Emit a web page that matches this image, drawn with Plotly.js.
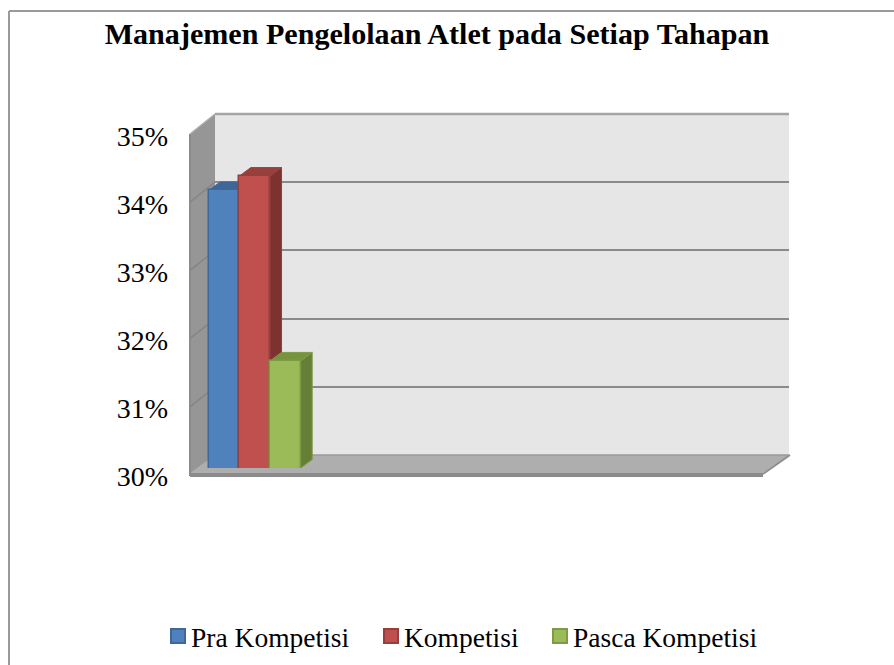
<!DOCTYPE html>
<html><head><meta charset="utf-8">
<script src="https://cdn.plot.ly/plotly-3.0.1.min.js"></script>
<style>html,body{margin:0;padding:0;background:#fff}#c{width:894px;height:665px}</style>
</head><body><div id="c"></div>
<script>
const chartTitle = "Manajemen Pengelolaan Atlet pada Setiap Tahapan";
const stage = ["Tahapan"];
const seriesNames = ["Pra Kompetisi", "Kompetisi", "Pasca Kompetisi"];
const praKompetisi = [34.07];
const kompetisi = [34.28];
const pascaKompetisi = [31.57];
const axisTicks = [30, 31, 32, 33, 34, 35];
const tickLabels = ["30%", "31%", "32%", "33%", "34%", "35%"];

const seriesValues = [praKompetisi, kompetisi, pascaKompetisi];
const front = ["#4f81bd", "#c0504d", "#9bbb59"];
const edge = ["#3d6898", "#93403e", "#7d9a47"];
const topFace = ["#3e6697", "#99403d", "#77933c"];
const sideFace = ["#38608f", "#7d3230", "#667f37"];
const W = 894, H = 665, F = "'Liberation Serif', 'Times New Roman', serif";
const px = x => x / W, py = y => 1 - y / H;
const domX = (a, b) => [px(a), px(b)], domY = (bottom, top) => [py(bottom), py(top)];

// fake-3D geometry of the Excel box (pixels)
const boxFront = {l: 190, r: 765, b: 475, t: 134};
const boxBack = {l: 215, r: 789, b: 455, t: 114};
const unitPx = 92, yUnitPx = 68.2, depthX = 11.5 / unitPx, depthY = 8.5 / yUnitPx;
const barCentre = 254.7;

const poly = (pts, fill, line, lw) => ({type: "path", xref: "paper", yref: "paper", layer: "below",
  path: "M" + pts.map(p => px(p[0]) + "," + py(p[1])).join("L") + "Z",
  fillcolor: fill, line: {color: line || fill, width: lw === undefined ? 0 : lw}});
const seg = (x0, y0, x1, y1, c, w) => ({type: "line", xref: "paper", yref: "paper", layer: "below",
  x0: px(x0), y0: py(y0), x1: px(x1), y1: py(y1), line: {color: c, width: w}});

const shapes = [
  seg(9, 11, 894, 11, "#9a9a9a", 2),
  seg(9, 11, 9, 665, "#9a9a9a", 2),
  poly([[215,114],[789,114],[789,455],[215,455]], "#e6e6e6"),
  poly([[190,134],[215,114],[215,455],[190,475]], "#969696"),
  poly([[190,473],[215,455],[790,455],[763,473]], "#aeaeae"),
  poly([[190,473],[763,473],[763,477],[190,477]], "#8b8b8b"),
  seg(763, 474, 790, 455, "#8f8f8f", 2),
  seg(190, 134, 190, 476, "#8b8b8b", 2),
  seg(190, 134, 215, 114, "#adadad", 1.5),
  seg(215, 114, 789, 114, "#a4a4a4", 2.5),
  seg(215, 455, 789, 455, "#9a9a9a", 1.5)
];
axisTicks.slice(1, -1).forEach((t, i) => {
  const k = i + 1;
  shapes.push(seg(190, 475 - k * 68.2, 215, 455 - k * 68.2, "#858585", 1.5));
});

// depth faces of each bar, computed from the data values in bar-subplot units
seriesValues.forEach((vals, i) => {
  const v = vals[0];
  const xl = 0.5 + i / 3, xr = xl + 1 / 3;
  shapes.push({type: "path", xref: "x3", yref: "y3", layer: "below",
    path: `M${xr},30L${xr + depthX},${30 + depthY}L${xr + depthX},${v + depthY}L${xr},${v}Z`,
    fillcolor: sideFace[i], line: {color: edge[i], width: 1}});
  shapes.push({type: "path", xref: "x3", yref: "y3", layer: "below",
    path: `M${xl},${v}L${xl + depthX},${v + depthY}L${xr + depthX},${v + depthY}L${xr},${v}Z`,
    fillcolor: topFace[i], line: {color: edge[i], width: 1}});
});

const legendNames = ["legend", "legend2", "legend3"];
const legendTextX = [181, 394, 563];

const anchors = [["x", "y"], ["x2", "y2"]].map(a => ({
  type: "scatter", mode: "none", x: [0.5], y: [32], xaxis: a[0], yaxis: a[1],
  showlegend: false, hoverinfo: "skip"
}));

const traces = anchors.concat(seriesNames.map((n, i) => ({
  type: "bar", name: n, x: [1], y: seriesValues[i], xaxis: "x3", yaxis: "y3",
  text: stage, textposition: "none", hoverinfo: "name+y",
  marker: {color: front[i], line: {color: edge[i], width: 1.5}},
  legend: legendNames[i], showlegend: true
})));

const legendCfg = x => ({x: px(x), y: py(636), xanchor: "left", yanchor: "middle",
  orientation: "h", bgcolor: "rgba(0,0,0,0)", borderwidth: 0, traceorder: "normal",
  font: {family: F, size: 27.5, color: "#000"}, itemclick: false, itemdoubleclick: false});

const hiddenX = (a, b, anchor) => ({domain: domX(a, b), visible: false, anchor, fixedrange: true});

const layout = {
  width: W, height: H, margin: {l: 0, r: 0, t: 0, b: 0},
  paper_bgcolor: "#fff", plot_bgcolor: "rgba(0,0,0,0)",
  barmode: "group", bargap: 0, bargroupgap: 0,
  title: {text: "<b>" + chartTitle + "</b>", x: px(437), y: py(33.5), xanchor: "center", yanchor: "middle",
    xref: "paper", yref: "paper", font: {family: F, size: 30.1, color: "#000"}},
  // back wall: gridlines
  xaxis: Object.assign(hiddenX(boxBack.l, boxBack.r, "y"), {range: [0, 1]}),
  yaxis: {domain: domY(boxBack.b, boxBack.t), range: [30, 35], anchor: "x", tickvals: axisTicks.slice(1, -1),
    showticklabels: false, ticks: "", showgrid: true, gridcolor: "#8a8a8a", gridwidth: 2, zeroline: false, showline: false, fixedrange: true},
  // front plane: tick labels
  xaxis2: Object.assign(hiddenX(boxFront.l, boxFront.r, "y2"), {range: [0, 1]}),
  yaxis2: {domain: domY(476.5, 136), range: [30, 35], anchor: "x2", tickmode: "array", tickvals: axisTicks, ticktext: tickLabels,
    showgrid: false, zeroline: false, showline: false, ticks: "", ticklabelstandoff: 21, fixedrange: true,
    tickfont: {family: F, size: 28, color: "#000"}},
  // bars plane
  xaxis3: Object.assign(hiddenX(boxFront.l, boxFront.r, "y3"),
    {type: "linear", range: [1 - (barCentre - boxFront.l) / unitPx, 1 + (boxFront.r - barCentre) / unitPx]}),
  yaxis3: {domain: domY(468, 468 - 5 * yUnitPx), range: [30, 35], anchor: "x3", visible: false, fixedrange: true},
  shapes,
  legend: legendCfg(legendTextX[0] - 30),
  legend2: legendCfg(legendTextX[1] - 30),
  legend3: legendCfg(legendTextX[2] - 30)
};

Plotly.newPlot("c", traces, layout, {displayModeBar: false, responsive: false}).then(() => {
  // Excel-style legend keys: larger and closer to their labels
  document.querySelectorAll("#c .legendsymbols").forEach(g => {
    g.setAttribute("transform", "translate(7,0)");
    g.querySelectorAll("path").forEach(p => {
      p.setAttribute("d", "M7,7H-7V-7H7Z");
      p.style.strokeWidth = "2px";
    });
  });
});
</script></body></html>
